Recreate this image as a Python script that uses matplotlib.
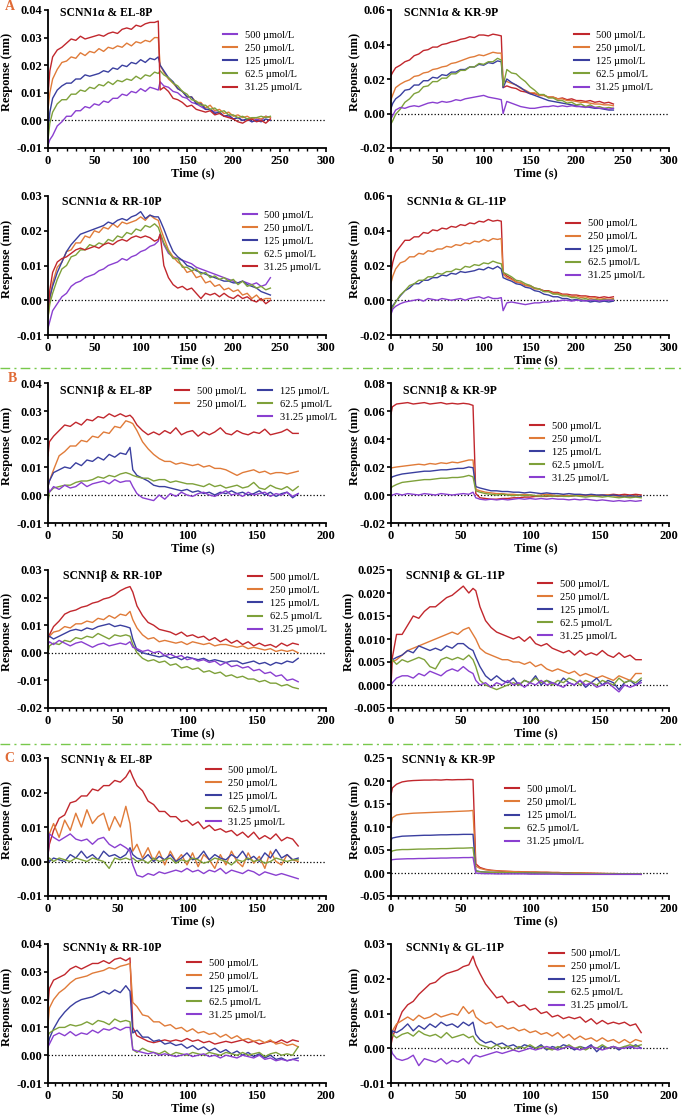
import matplotlib
matplotlib.use('Agg')
import matplotlib.pyplot as plt
from matplotlib.lines import Line2D
from matplotlib.ticker import FormatStrFormatter
import numpy as np

plt.rcParams['font.family'] = ['Liberation Serif', 'DejaVu Serif']
plt.rcParams['axes.unicode_minus'] = False

"""
Data (responses read off the sensorgrams, in units of 0.001 nm)
"""
conc_labels = ['500 µmol/L', '250 µmol/L', '125 µmol/L', '62.5 µmol/L', '31.25 µmol/L']

# sampling times of section A (association 0-120 s, dissociation 120-240 s)
t_a = [0, 2, 5, 10, 15, 20, 25, 30, 35, 40, 45, 50, 55, 60, 65, 70, 75, 80, 85, 90, 95, 100, 105, 110, 115, 119,
       121, 125, 130, 135, 140, 145, 150, 155, 160, 165, 170, 175, 180, 185, 190, 195, 200, 205, 210, 215, 220, 225,
       230, 235, 240]
# sampling times of sections B and C (association 0-60 s, dissociation 60-180 s)
t_bc = [0, 1, 4, 8, 12, 16, 20, 24, 28, 32, 36, 40, 44, 48, 52, 56, 59,
        61, 64, 68, 72, 76, 80, 84, 88, 92, 96, 100, 104, 108, 112, 116, 120, 124, 128, 132, 136, 140, 144, 148,
        152, 156, 160, 164, 168, 172, 176, 180]

# A - SCNN1a & EL-8P
a1_500 = [-9, -7, -5.5, -2, -0.5, 1.5, 1.5, 3.5, 3.5, 5, 4.5, 6, 5.5, 7, 6.5, 8, 8, 9.5, 9, 10.5, 10, 11.5, 10.5, 12, 11.5, 11,
          14, 12.5, 12, 10.5, 10, 8.5, 8, 6.5, 6, 5, 4, 4, 3, 3, 1.5, 1.5, 0.5, 1, 0, 0.5, -0.5, 0.5, 0, 1.5, 1]
a1_250 = [4, 10, 15, 18.5, 21, 21.5, 23, 22.5, 24.5, 23.5, 25, 24.5, 26, 25, 26.5, 26, 27, 26.5, 28, 27, 28.5, 28, 29, 28.5, 30, 30,
          20, 17.5, 15, 13.5, 11.5, 10.5, 8.5, 8.5, 6.5, 6.5, 4.5, 5.5, 3.5, 4, 2.5, 3, 1.5, 2, 1, 1.5, 0.5, 1, 0.5, 1.5, 1]
a1_125 = [-4, 3, 8, 11, 12.5, 13.5, 13.5, 15, 15, 16.5, 16, 16.5, 17, 18, 17.5, 19, 18.5, 20, 19.5, 21, 20.5, 22, 21, 22.5, 22, 23,
          20, 18, 15.5, 14, 11.5, 10.5, 8.5, 8.5, 6, 6, 4, 4, 2.5, 3, 1.5, 2, 0.5, 1, 0, 0.5, -0.5, 0, -0.5, 0.5, 0]
a1_62 = [-7, -1, 3, 6, 7.5, 7.5, 9.5, 9.5, 11, 10.5, 12, 11.5, 13, 12.5, 14, 13, 14.5, 14, 15, 14.5, 16, 15, 16.5, 16, 17.5, 17,
         18, 16.5, 15.5, 13.5, 12.5, 10.5, 9.5, 7.5, 7, 5.5, 5.5, 4, 4.5, 3, 3.5, 2, 2, 1, 1.5, 0.5, 1, 1, 1.5, 1, 1.5]
a1_31 = [9, 18, 23, 25.5, 26.5, 28, 29.5, 29, 30.5, 29.5, 30, 30.5, 31, 30.5, 31.5, 32, 31.5, 33, 33.5, 33, 34.5, 34, 35, 35.5, 35.5, 36,
         11, 12, 10.5, 8, 7.5, 6.5, 5, 5.5, 4, 3.5, 3, 3.5, 2, 2.5, 1.5, 1, 0.5, -0.5, -1, 0, 0.5, -0.5, 0, -1, 0.5]

# A - SCNN1a & KR-9P
a2_500 = [22, 24, 26.5, 28, 30, 31, 33.5, 34.5, 36.5, 37, 38.5, 38.5, 40, 40.5, 41.5, 42, 43, 43.5, 44.5, 44, 45.5, 45.5, 45, 46, 45.5, 45,
          15, 16, 15, 14.5, 13, 12.5, 11.5, 11.5, 10.5, 10.5, 9.5, 9.5, 8.5, 9, 8, 8.5, 7.5, 7.5, 7, 7.5, 6.5, 7, 6, 6.5, 5.5]
a2_250 = [8, 11, 15, 17, 18.5, 19.5, 21.5, 22, 23.5, 24, 25.5, 26, 27, 27.5, 29, 29.5, 30.5, 31.5, 32.5, 33, 34, 33.5, 34.5, 35.5, 35, 35,
          19, 18.5, 17.5, 16.5, 14.5, 13.5, 12, 12, 10.5, 10.5, 9.5, 9.5, 8.5, 8.5, 7.5, 7.5, 7, 6.5, 6.5, 6, 5.5, 5.5, 5, 5, 4.5]
a2_125 = [3, 6, 8.5, 10.5, 13.5, 14, 16.5, 16.5, 19, 19, 21, 20.5, 22.5, 22, 24, 24, 25.5, 25.5, 27, 27, 28.5, 28, 29.5, 29, 30.5, 30,
          15, 20, 18, 16.5, 15, 13, 11.5, 10.5, 9.5, 8.5, 7.5, 7, 6.5, 6, 5.5, 5, 4.5, 4, 4, 3.5, 3, 3, 2.5, 2, 2]
a2_62 = [-6, -4, -0.5, 2.5, 6.5, 8.5, 11.5, 12.5, 15.5, 16, 18.5, 18.5, 20.5, 20.5, 23, 23, 25, 25, 27, 27, 29, 28.5, 30, 30, 32, 31,
         16, 25.5, 23.5, 23, 20.5, 18.5, 15.5, 13.5, 11, 11, 9, 9, 7.5, 7.5, 6, 6.5, 5, 5.5, 4, 5, 3.5, 4, 3, 3.5, 3]
a2_31 = [-3, -1, 2, 3.5, 3, 4, 4.5, 4, 5, 6, 6.5, 6, 7, 6.5, 7, 8, 7.5, 8.5, 9, 9.5, 10, 10.5, 9.5, 9, 8.5, 8,
         0, 7, 6, 5, 4, 3.5, 3, 3, 3.5, 4, 4, 4.5, 4, 4.5, 4, 4.5, 4, 4, 3.5, 4, 3.5, 3, 3, 2.5, 3]

# A - SCNN1a & RR-10P
a3_500 = [-8, -6, -3, -1, 1, 2, 4, 5, 5.5, 6.5, 7, 7.5, 8.5, 9, 10, 10.5, 11, 12, 11.5, 12.5, 13, 14, 14.5, 15.5, 16, 17,
          19, 16, 13.5, 12.5, 12, 11.5, 11, 10.5, 9.5, 9, 8.5, 8, 7.5, 7, 6.5, 6, 5.5, 5, 5.5, 5, 4.5, 5, 4, 4.5, 6.5]
a3_250 = [-5, 0, 5, 9.5, 11, 14, 14.5, 16.5, 16.5, 18.5, 18, 20, 19.5, 21, 20.5, 22, 21, 22.5, 22, 22.5, 23, 24, 23, 24.5, 23.5, 23,
          21, 18, 14.5, 12.5, 11, 10, 8, 8.5, 6.5, 7, 5, 5.5, 4, 4.5, 3, 3.5, 2.5, 3, 1.5, 2, 0.5, 1.5, 0, 0.5, 0.5]
a3_125 = [-3, 1, 4, 8, 11, 14, 16, 17.5, 19, 19.5, 20, 20.5, 21, 21.5, 22.5, 22, 23, 23.5, 23, 24, 24.5, 25.5, 23.5, 24.5, 24, 24,
          23, 20.5, 17, 14, 12.5, 11.5, 10, 9.5, 8.5, 8, 7.5, 7, 6.5, 6, 5.5, 5.5, 5, 5, 5.5, 4.5, 4, 3.5, 2.5, 2, 1.5]
a3_62 = [-5, -1, 2, 6, 9, 10, 12.5, 13, 14.5, 14.5, 16, 15.5, 16.5, 16, 17.5, 17, 18.5, 18, 19.5, 19, 20.5, 20, 21.5, 21, 22, 21,
         19.5, 16.5, 14, 12, 12, 9.5, 9.5, 8.5, 9, 7.5, 8, 6.5, 7, 6, 6.5, 5.5, 6, 4.5, 5.5, 4, 4.5, 3.5, 4, 3, 3.5]
a3_31 = [-3, 3, 8, 11, 12, 12.5, 13.5, 14.5, 15, 14.5, 15, 15.5, 15, 16, 16.5, 16, 17, 17.5, 17, 18, 18.5, 18, 18.5, 18, 17, 17.5,
         19, 10, 6.5, 4.5, 3.5, 4, 3, 3.5, 2, 0.5, 2, 1.5, 2, 1, 2, 1, 0.5, 1.5, 0.5, 1, 0, -0.5, 0.5, -1, 0]

# A - SCNN1a & GL-11P
a4_500 = [16, 22, 27.5, 31, 34.5, 34.5, 36.5, 36.5, 39, 38.5, 40.5, 40, 41.5, 41, 42.5, 42, 43.5, 43, 44.5, 44, 45.5, 45, 46.5, 45.5, 46, 45.5,
          16, 14, 12.5, 10.5, 10, 8.5, 8.5, 7, 6.5, 5.5, 5.5, 4.5, 4.5, 3.5, 3.5, 3, 3, 2.5, 2.5, 2, 2, 1.5, 2, 1.5, 2]
a4_250 = [10, 14, 18, 21.5, 22.5, 25, 25, 27, 26.5, 28.5, 28, 29.5, 29.5, 31, 30.5, 32, 31.5, 33, 32.5, 34, 33.5, 35, 34, 35.5, 35, 35.5,
          15, 13, 12, 10.5, 10, 8.5, 8, 6.5, 6.5, 5, 5, 4, 4, 3, 3, 2, 2.5, 1.5, 2, 1, 1.5, 0.5, 1, 0.5, 1]
a4_125 = [-5, -3, -1, 2.5, 5.5, 7, 9.5, 9.5, 11.5, 11.5, 13, 13, 14.5, 14, 15.5, 15, 16.5, 16, 16.5, 17, 18, 17.5, 19, 18, 19.5, 18,
          13, 12, 11, 9.5, 9, 7.5, 7, 5.5, 5, 3.5, 3, 2, 2, 1, 1, 0, 0.5, -0.5, 0, -1, -0.5, -1, -0.5, -1, -0.5]
a4_62 = [-7, -4, -1, 3, 5.5, 8.5, 9.5, 11.5, 11.5, 13.5, 13.5, 15.5, 15, 16.5, 16.5, 18, 17.5, 19.5, 19, 20.5, 20, 21.5, 21, 22.5, 21.5, 21,
         16, 15, 13.5, 11.5, 11, 9.5, 8.5, 7, 6.5, 5, 5, 3.5, 3.5, 2.5, 2.5, 1.5, 1.5, 0.5, 1, 0, 0.5, 0, 0.5, 0, 0.5]
a4_31 = [-8, -5, -3.5, -2, -1, -0.5, 0, 0.5, -0.5, 1, 0.5, 0, 1, 0.5, 0, 0.5, 1, 0, 1, 1.5, 2, 1, 2, 1, 1, 1.5,
         -6, -1.5, -1, -1.5, -2, -2.5, -2, -1.5, -1.5, -1, -1, -0.5, -0.5, 0, 0, -0.5, 0, 0, -0.5, 0, 0, -0.5, 0, 0, 0]

# B - SCNN1b & EL-8P
b1_500 = [14, 19, 21, 23, 25, 24.5, 26, 25, 27, 26.5, 28, 27.5, 29, 28, 29, 28, 28.5,
          27.5, 25, 23, 21.5, 22.5, 21.5, 23, 22, 24, 21.5, 22.5, 23, 21, 22.5, 21.5, 22.5, 24, 22, 21.5, 23, 22,
          21.5, 22.5, 22, 23.5, 21.5, 22, 22.5, 23.5, 22, 22]
b1_250 = [3, 5, 9, 14, 15.5, 17.5, 17.5, 19.5, 19, 21, 20.5, 22.5, 22, 24.5, 24, 26.5, 26,
          25.5, 23, 19, 16.5, 14.5, 13, 12, 12, 11, 11.5, 11, 10.5, 11, 10, 10.5, 9.5, 9.5, 9, 8, 7, 8, 8.5, 9, 8,
          8.5, 7.5, 8, 8, 7.5, 8, 8.5]
b1_125 = [3, 5, 8, 9, 10, 9.5, 11.5, 10.5, 12.5, 12, 13.5, 12.5, 14.5, 13.5, 15, 14.5, 17,
          9, 7, 6, 5, 3.5, 3, 3, 2.5, 2, 1.5, 2, 1, 1.5, 0.5, 1, 0, 1, 0.5, 1.5, 0.5, 1, 0, 0.5, 1.5, 0, 1, -0.5,
          0.5, 1, -1, 0.5]
b1_62 = [-3, 1, 2.5, 3, 3.5, 3.5, 4.5, 5, 5, 5.5, 6.5, 6, 7, 6.5, 7.5, 8, 7.5,
         7, 6.5, 6, 6, 5, 5.5, 5.5, 4.5, 5, 4.5, 4, 4, 3.5, 3, 4, 3, 3.5, 2.5, 3, 3.5, 2.5, 3, 4.5, 2.5, 2, 3.5,
         2.5, 2, 3, 1.5, 3]
b1_31 = [3, 1, 3, 2, 3.5, 2.5, 3, 4.5, 3, 4, 4.5, 5, 4, 5.5, 4.5, 5, 5,
         3, 0.5, -1, -1.5, -2, 0, -1.5, 0.5, -0.5, 1, 0, -0.5, 0.5, 1, 0, -0.5, 0.5, 1.5, 0, 0.5, -0.5, 1, 0, 0.5,
         1, -0.5, 0.5, 0, 1, -0.5, 0.5]

# B - SCNN1b & KR-9P
b2_500 = [58, 63, 65, 65.5, 66, 65, 65.5, 66, 65, 65.5, 66, 65, 65.5, 65, 65.5, 65, 64,
          1, -2, -2.5, -3, -3, -2.5, -2.5, -2, -2, -1.5, -1.5, -1, -1, -1, -0.5, -1, -0.5, -1, -0.5, 0, -0.5, 0,
          -0.5, 0, 0, 0.5, 0, 0.5, 0, 0.5, 0]
b2_250 = [19, 19.5, 20, 20.5, 21, 21.5, 22, 21.5, 22.5, 22, 23, 22.5, 23.5, 23, 24, 25, 25,
          4, 3, 2, 1.5, 1, 1, 0.5, 0.5, 0, 0.5, 0, -0.5, 0, 0.5, 0, -0.5, 0, -0.5, 0, -0.5, 0, -0.5, -1, -0.5, 0,
          -0.5, -1, -0.5, -1, -0.5, -1]
b2_125 = [12, 13, 14, 15, 15.5, 16, 16.5, 17, 17, 17.5, 18, 18, 18.5, 19, 19, 20, 19.5,
          6, 5, 4, 3, 3, 2.5, 2.5, 2, 2, 1.5, 2, 1.5, 1, 1.5, 1, 1, 0.5, 1, 0.5, 0.5, 0, 0.5, 0, 0, -0.5, 0, -0.5,
          -1, -0.5, -1, -1]
b2_62 = [5, 6, 7.5, 9, 9.5, 10, 10.5, 11, 11, 11.5, 12, 12, 12.5, 12.5, 13, 14, 13,
         3, 2, 1, 0.5, 0, 0.5, 0, -0.5, 0, -0.5, 0, -0.5, -1, -0.5, -1, -0.5, -1, -1, -0.5, -1, -1.5, -1, -1, -1.5,
         -1, -1.5, -2, -1.5, -2, -1.5, -2]
b2_31 = [-1, 0, 1, 0, 1, 0.5, 0, 1, 0.5, 0, 1, 0.5, 0, 0.5, 1, 0.5, 2,
         -2, -3, -3.5, -3, -3.5, -3, -3.5, -3, -2.5, -3, -2.5, -3, -2.5, -3, -2.5, -3, -3, -3.5, -3, -3.5, -3, -3.5,
         -4, -3.5, -4, -4.5, -4, -4.5, -4, -4.5, -4]

# B - SCNN1b & RR-10P
b3_500 = [5, 6.5, 9.5, 11.5, 14, 15, 15.5, 16.5, 17, 18, 18.5, 19.5, 20, 21, 22.5, 23.5, 24,
          22, 17, 13.5, 11, 10, 8.5, 8, 7.5, 6.5, 7.5, 6, 6.5, 5.5, 6, 4.5, 5.5, 4, 5, 3.5, 4.5, 3, 4, 2.5, 3.5,
          2.5, 3, 2, 3.5, 2.5, 3.5, 3]
b3_250 = [5, 6, 7.5, 8, 9.5, 9, 10.5, 10.5, 11.5, 11, 12.5, 12, 13.5, 12.5, 14, 13.5, 15,
          12, 9, 6.5, 5, 5.5, 4, 4.5, 4, 3.5, 4, 3, 4, 3.5, 3, 3.5, 2.5, 3, 3, 2.5, 2, 2.5, 1.5, 2, 1.5, 1, 1.5,
          0.5, 1, 0.5, 1, 0]
b3_125 = [6, 6, 5, 6, 7, 8, 8.5, 8, 9, 8.5, 9.5, 10, 10.5, 9.5, 10, 9.5, 9,
          5, 1, 0, -0.5, -1, -1.5, -1, -2, -1.5, -2.5, -1.5, -2, -2.5, -2, -3, -2.5, -3, -3.5, -3, -3, -4, -3.5, -3,
          -4, -3.5, -4.5, -3.5, -4, -3, -3.5, -2]
b3_62 = [0, 2.5, 3.5, 3, 4.5, 4, 5.5, 5, 6, 5.5, 7, 6, 5, 6.5, 6, 6.5, 6,
         3, 0, -2, -3, -2.5, -3.5, -3, -4.5, -4, -5.5, -5, -6, -5.5, -7, -6.5, -7.5, -7, -8.5, -8, -9, -8.5, -9.5,
         -9.5, -10.5, -10, -11, -11, -12, -11.5, -12.5, -13]
b3_31 = [3, 4, 3, 4.5, 3.5, 2.5, 3.5, 4, 3, 2, 3, 3.5, 2.5, 3, 3.5, 3, 4,
         2, 1.5, 0.5, 1, 0, 0.5, -1, -0.5, -1.5, -1, -2.5, -2, -3, -2.5, -3.5, -3, -4.5, -3.5, -5, -4.5, -5.5, -5,
         -6.5, -6, -7.5, -7, -8.5, -8, -10, -9.5, -10.5]

# B - SCNN1b & GL-11P
b4_500 = [0, 6, 11, 11, 13, 15, 14.5, 16, 17, 17, 18, 19, 19.5, 20.5, 21.5, 20, 21,
          20.5, 17, 14, 12.5, 11.5, 11, 10.5, 10, 10.5, 9.5, 10.5, 9, 8.5, 9, 8, 7.5, 7, 7.5, 6.5, 7.5, 6.5, 7,
          6.5, 7.5, 6.5, 6, 7, 6, 6.5, 5.5, 5.5]
b4_250 = [5, 5, 5.5, 6.5, 7.5, 8, 8.5, 9, 9.5, 10, 10.5, 11, 11.5, 11, 12, 12.5, 11,
          10, 8, 7, 6.5, 6, 5.5, 5.5, 5, 5, 4.5, 5, 4, 4.5, 3.5, 3, 3.5, 3, 2.5, 3, 2, 2.5, 2, 1.5, 2, 1.5, 1, 2,
          1.5, 1, 2.5, 2.5]
b4_125 = [5, 5.5, 6, 6.5, 7.5, 7, 8.5, 8, 7.5, 8, 7.5, 8.5, 8, 9, 9, 8, 7.5,
          6, 4, 2, 1, 2, 1, 0.5, 1.5, 0, 1, 0.5, 2, 0, 1, 0.5, 0, 1.5, 0.5, 0, 1, -0.5, 0.5, 1.5, 0, 1, 0.5, -1,
          0.5, 1, 0, 1]
b4_62 = [5, 5.5, 4.5, 5.5, 5, 5.5, 6, 5.5, 4, 3.5, 5.5, 6, 5.5, 6, 5.5, 6.5, 5.5,
         4, 1, 0, -0.5, -1, -0.5, 0, 0.5, 0, 1, 0.5, 1.5, 0.5, 1, 0, 1, 0.5, 1.5, 1, 0, 1, 0.5, 0, 1, 0.5, 0, 1.5,
         0.5, 1, 0.5, 1.5]
b4_31 = [0, 0.5, 1.5, 2, 2, 1.5, 2.5, 2, 3, 2.5, 2, 3, 3.5, 3, 4, 3, 2.5,
         1, 0, 0.5, -0.5, 0.5, 0, 1, 0, 0.5, -0.5, 0.5, 0, 1, 0, 0.5, 0, -0.5, 0.5, 0, 1, 0, 0.5, -0.5, 0, 0.5,
         -0.5, -1.5, 0, -0.5, 0, 0.5]

# C - SCNN1g & EL-8P
c1_500 = [2, 5, 9, 12.5, 13.5, 17, 17.5, 19, 19, 21, 20.5, 22, 22, 23.5, 23, 24.5, 26.5,
          24.5, 22, 20.5, 17.5, 16.5, 14.5, 14.5, 13, 13, 11.5, 12, 10.5, 11.5, 9.5, 10.5, 9, 9.5, 8.5, 9, 7.5,
          8.5, 7, 8.5, 6.5, 7.5, 6.5, 8, 6, 7, 6.5, 4.5]
c1_250 = [3, 8, 11, 7, 12, 9, 14, 10, 15, 11, 13, 14, 9, 13, 10, 16, 11,
          3, 5, 1, 4, 0, 3, -1, 3, 0, 2, -1, 2.5, -1.5, 2, 0.5, -2, 2, -1, 3, 0, -1.5, 2.5, -0.5, 1.5, -2, 3, 0,
          -1, 2, 0.5, 0]
c1_125 = [1, 0, 1, 0.5, 0, 2, 1, 3, 1, 2, 0.5, 3, 1.5, 2, 1, 2, 4,
          2, 1, 0.5, 2, 0, 1.5, 0.5, 2, 0, 1, 2.5, 0.5, 1, 3, 0.5, 2, 1, 0.5, 2, 1, 3, 0.5, 1.5, 0, 2.5, 1, 3.5,
          1, 2, 0.5, 1]
c1_62 = [0.5, 1, 0, 1, 0.5, 0, 1, 0.5, 0, 1, 0.5, 0, -2, 1, 0.5, 1, 0.5,
         1, 0, 0.5, -0.5, 1, 0, 0.5, 1, -0.5, 0.5, 0, 1, 0.5, -0.5, 0, 1, 0.5, 0, -1, 0.5, 0, 1, 0, 0.5, -0.5, 0,
         1, 0.5, 0, 0.5, 0.5]
c1_31 = [1, 8, 7, 6, 7, 8, 6.5, 6, 6.5, 5, 6.5, 7, 5, 4, 5, 4, 3,
         -1, -4, -4.5, -3.5, -4, -3, -3.5, -3, -2.5, -3, -2, -3, -2.5, -3.5, -2.5, -3, -2, -3.5, -2.5, -3, -3.5,
         -2.5, -3, -4, -3, -3.5, -4, -3.5, -4, -4.5, -5]

# C - SCNN1g & KR-9P
c2_500 = [170, 185, 193, 198, 200, 201, 201.5, 202, 202, 202.5, 202, 203, 202.5, 203, 203, 203.5, 203,
          20, 12, 8, 6, 5, 4, 3.5, 3, 3, 2.5, 2, 2, 1.5, 1.5, 1, 1, 0.5, 0.5, 0, 0, -0.5, -0.5, -1, -1, -1.5,
          -1.5, -2, -2, -2.5, -2.5, -3]
c2_250 = [105, 120, 126, 128, 129, 130, 130.5, 131, 131.5, 132, 132.5, 133, 133.5, 134, 134.5, 135, 136,
          15, 10, 7, 5.5, 4.5, 4, 3.5, 3, 2.5, 2.5, 2, 2, 1.5, 1.5, 1, 1, 0.5, 0.5, 0.5, 0, 0, -0.5, -0.5, -1, -1,
          -1, -1.5, -1.5, -1.5, -2, -2]
c2_125 = [72, 76, 78, 80, 80.5, 81, 81.5, 82, 82, 82.5, 83, 83, 83.5, 83.5, 84, 84, 84,
          5, 3, 2, 1.5, 1, 1, 0.5, 0.5, 0, 0, 0, -0.5, -0.5, -0.5, -1, -1, -1, -1, -1.5, -1.5, -1.5, -1.5, -2, -2,
          -2, -2, -2, -2, -2, -2, -2]
c2_62 = [45, 48, 50, 51, 51, 51.5, 52, 52, 52.5, 52.5, 53, 53, 53.5, 54, 54, 54.5, 55,
         4, 2.5, 2, 1.5, 1, 1, 0.5, 0.5, 0.5, 0, 0, 0, -0.5, -0.5, -0.5, -1, -1, -1, -1, -1, -1.5, -1.5, -1.5,
         -1.5, -1.5, -2, -2, -2, -2, -2, -2]
c2_31 = [28, 29, 30, 30.5, 31, 31, 31.5, 31.5, 32, 32, 32.5, 32.5, 33, 33, 33.5, 33.5, 34,
         0, -1, -1.5, -1.5, -2, -2, -2, -2, -2, -2, -2.5, -2.5, -2.5, -2.5, -2.5, -2.5, -3, -3, -3, -3, -3, -3, -3,
         -3, -3, -3, -3, -3, -3, -3, -3]

# C - SCNN1g & RR-10P
c3_500 = [18, 24, 27, 28, 29, 31, 32, 31, 32, 33, 33, 34, 33, 34.5, 35, 34, 35,
          10, 7, 6, 5, 4.5, 5, 5.5, 5, 5.5, 5, 6, 5, 5.5, 4.5, 5, 4, 4.5, 5, 4.5, 5, 5.5, 4.5, 5, 4, 4.5, 5, 4.5,
          5.5, 4.5, 5.5, 5]
c3_250 = [11, 17, 20, 22.5, 24, 26, 27.5, 28, 28.5, 29.5, 30, 30.5, 31.5, 31, 32, 32.5, 33,
          19, 17.5, 14.5, 14, 12, 12, 10.5, 11, 9.5, 10, 8.5, 9.5, 8, 8.5, 7.5, 8, 6.5, 7.5, 6, 7, 5.5, 6, 5, 5.5,
          4.5, 5.5, 4, 4.5, 3.5, 4, 3]
c3_125 = [3, 6, 9.5, 13, 15.5, 17.5, 19, 20, 20.5, 21, 22, 23, 22, 23.5, 22.5, 25, 23,
          8, 9, 6.5, 6.5, 5, 5.5, 4, 4.5, 3.5, 4, 2.5, 3.5, 2, 3, 1.5, 2.5, 1, 2, 0.5, 1.5, 0, 1, -0.5, 0.5, -1, 0,
          -1.5, -1, -2, -1.5, -1]
c3_62 = [7, 8, 9, 10, 10, 11, 10.5, 11, 12, 11, 12.5, 12, 11, 13, 12, 12.5, 12,
         2, 1, 2.5, 1.5, 1, 0.5, 1.5, 0, 1, 0.5, 0, 1, 0.5, 0, 1, 0.5, 0, 1, 0.5, 0, 1, 0, 0.5, 1, -0.5, 0.5, 1,
         0, 0.5, 0, 3]
c3_31 = [3, 4, 7, 8, 7, 8.5, 7, 8, 7.5, 9, 8, 9.5, 9, 10, 9, 10, 10,
         2, 1.5, 1, 0.5, 1, 0, 0.5, 0, -0.5, 0, 0.5, -0.5, 0, 0.5, -0.5, 0, -1, 0, -0.5, -1, 0, -0.5, -1, 0, -1.5,
         -1, -2, -1.5, -2, -1.5, -2]

# C - SCNN1g & GL-11P
c4_500 = [1, 3, 6.5, 10.5, 12.5, 13.5, 15.5, 17, 18.5, 19, 20.5, 21.5, 22, 22.5, 23.5, 24, 26.5,
          24, 21.5, 18.5, 16.5, 14.5, 15, 13, 13.5, 12, 12.5, 11, 11.5, 10, 10.5, 9, 9.5, 8.5, 9, 8.5, 9, 7.5, 8.5,
          7, 8, 7, 7.5, 7, 7.5, 6.5, 7, 4.5]
c4_250 = [3, 5, 7, 8, 9, 8, 9.5, 8.5, 9, 10, 9, 9.5, 10, 9.5, 12, 10, 11,
          9, 8, 7, 7.5, 6, 6.5, 5.5, 6, 5, 5.5, 4.5, 5, 4, 4.5, 3.5, 4.5, 3, 4, 2.5, 3.5, 2.5, 3, 2, 3, 2, 2.5,
          1.5, 2.5, 1.5, 2.5, 2]
c4_125 = [2, 5, 4.5, 5.5, 7, 5, 6.5, 5.5, 7, 6, 7.5, 6.5, 7, 6, 7.5, 6.5, 7.5,
          4, 2.5, 1.5, 2, 1, 1.5, 0.5, 1, 0, 1, 0.5, 0, 1, -0.5, 0.5, 0, 1, 0.5, -0.5, 0.5, 0, 1, -1, 0.5, 0, 0.5,
          -0.5, 0.5, 0, 1, 0]
c4_62 = [3, 4, 3, 4, 4.5, 3.5, 5, 4, 3.5, 4, 3, 4.5, 3, 3.5, 4, 3, 3.5,
         2, 1, 0.5, 0, 1, 0, 0.5, -0.5, 0.5, 0, 1, 0, 0.5, 0, -0.5, 0.5, 0, 1, 0, 0.5, -0.5, 0.5, 0, 1, 0, 0.5, 0,
         0.5, 1, 0.5, 1]
c4_31 = [0, -1.5, -3, -3.5, -3, -2, -5, -3, -3.5, -4, -3, -4.5, -3.5, -4, -3, -4.5, -2.5,
         -2, -2.5, -2, -1.5, -1, -1.5, -1, -0.5, -1, -0.5, 0, -0.5, 0, 0.5, 0, -0.5, 0, 0.5, 0, -0.5, 0, 0.5, 0,
         -0.5, 0, 0.5, 0, 0, 0.5, 0, 0]

"""
Style
"""
RED = '#C1272D'
ORANGE = '#E07B39'
BLUE = '#3A3F9F'
GREEN = '#7EA13A'
PURPLE = '#8A3FD0'
COLORS = [RED, ORANGE, BLUE, GREEN, PURPLE]
COLORS_SWAP = [PURPLE, ORANGE, BLUE, GREEN, RED]

W, H = 685, 1117
COL_X = [48, 391]
ROW_Y = [(10, 148), (196, 335), (383, 523), (570, 708), (758, 896), (944, 1083)]

panels = [
    dict(title='SCNN1α & EL-8P', pos=(0, 0), t=t_a, ys=[a1_500, a1_250, a1_125, a1_62, a1_31], colors=COLORS_SWAP,
         yl=(-0.01, 0.04, 0.01), fmt='%.2f', xmax=300, minor=10, leg=(0.63, 0.85), tt=(0.043, 0.975)),
    dict(title='SCNN1α & KR-9P', pos=(1, 0), t=t_a, ys=[a2_500, a2_250, a2_125, a2_62, a2_31], colors=COLORS,
         yl=(-0.02, 0.06, 0.02), fmt='%.2f', xmax=300, minor=10, leg=(0.66, 0.85), tt=(0.047, 0.975)),
    dict(title='SCNN1α & RR-10P', pos=(0, 1), t=t_a, ys=[a3_500, a3_250, a3_125, a3_62, a3_31], colors=COLORS_SWAP,
         yl=(-0.01, 0.03, 0.01), fmt='%.2f', xmax=300, minor=10, leg=(0.70, 0.895), tt=(0.05, 0.957)),
    dict(title='SCNN1α & GL-11P', pos=(1, 1), t=t_a, ys=[a4_500, a4_250, a4_125, a4_62, a4_31], colors=COLORS,
         yl=(-0.02, 0.06, 0.02), fmt='%.2f', xmax=300, minor=10, leg=(0.63, 0.835), tt=(0.058, 0.957)),
    dict(title='SCNN1β & EL-8P', pos=(0, 2), t=t_bc, ys=[b1_500, b1_250, b1_125, b1_62, b1_31], colors=COLORS,
         yl=(-0.01, 0.04, 0.01), fmt='%.2f', xmax=200, minor=5, leg=(0.457, 0.975), leg2=(0.755, 0.975),
         tt=(0.043, 0.943)),
    dict(title='SCNN1β & KR-9P', pos=(1, 2), t=t_bc, ys=[b2_500, b2_250, b2_125, b2_62, b2_31], colors=COLORS,
         yl=(-0.02, 0.08, 0.02), fmt='%.2f', xmax=200, minor=5, leg=(0.50, 0.725), tt=(0.043, 0.943)),
    dict(title='SCNN1β & RR-10P', pos=(0, 3), t=t_bc, ys=[b3_500, b3_250, b3_125, b3_62, b3_31], colors=COLORS,
         yl=(-0.02, 0.03, 0.01), fmt='%.2f', xmax=200, minor=5, leg=(0.72, 0.98), tt=(0.054, 0.957)),
    dict(title='SCNN1β & GL-11P', pos=(1, 3), t=t_bc, ys=[b4_500, b4_250, b4_125, b4_62, b4_31], colors=COLORS,
         yl=(-0.005, 0.025, 0.005), fmt='%.3f', xmax=200, minor=5, leg=(0.53, 0.93), tt=(0.054, 0.957),
         ylab_x=-0.13),
    dict(title='SCNN1γ & EL-8P', pos=(0, 4), t=t_bc, ys=[c1_500, c1_250, c1_125, c1_62, c1_31], colors=COLORS,
         yl=(-0.01, 0.03, 0.01), fmt='%.2f', xmax=200, minor=5, leg=(0.57, 0.945), tt=(0.047, 0.985)),
    dict(title='SCNN1γ & KR-9P', pos=(1, 4), t=t_bc, ys=[c2_500, c2_250, c2_125, c2_62, c2_31], colors=COLORS,
         yl=(-0.05, 0.25, 0.05), fmt='%.2f', xmax=200, minor=5, leg=(0.41, 0.806), tt=(0.04, 0.985)),
    dict(title='SCNN1γ & RR-10P', pos=(0, 5), t=t_bc, ys=[c3_500, c3_250, c3_125, c3_62, c3_31], colors=COLORS,
         yl=(-0.01, 0.04, 0.01), fmt='%.2f', xmax=200, minor=5, leg=(0.50, 0.895), tt=(0.054, 0.97)),
    dict(title='SCNN1γ & GL-11P', pos=(1, 5), t=t_bc, ys=[c4_500, c4_250, c4_125, c4_62, c4_31], colors=COLORS,
         yl=(-0.01, 0.03, 0.01), fmt='%.2f', xmax=200, minor=5, leg=(0.57, 0.965), tt=(0.054, 0.97)),
]


def add_legend(ax, handles, labels, anchor):
    leg = ax.legend(handles, labels, loc='upper left', bbox_to_anchor=anchor, frameon=False, fontsize=7.5,
                    handlelength=1.35, handletextpad=0.75, labelspacing=0.36, borderpad=0, borderaxespad=0)
    for line in leg.get_lines():
        line.set_linewidth(1.5)
    return leg


def draw_panel(fig, p):
    col, row = p['pos']
    y0, y1 = ROW_Y[row]
    ax = fig.add_axes([COL_X[col] / W, 1 - y1 / H, 278 / W, (y1 - y0) / H])

    handles = []
    for vals, color in zip(p['ys'], p['colors']):
        line, = ax.plot(p['t'], np.array(vals) / 1000.0, color=color, lw=1.0)
        handles.append(line)
    ax.axhline(0, color='k', ls=':', lw=0.9, zorder=0)

    lo, hi, step = p['yl']
    ax.set_xlim(0, p['xmax'])
    ax.set_ylim(lo, hi)
    ax.set_xticks(np.arange(0, p['xmax'] + 1, 50))
    ax.set_xticks(np.arange(0, p['xmax'] + 1, p['minor']), minor=True)
    ax.set_yticks(np.round(np.arange(lo, hi + step / 2, step), 4) + 0.0)
    ax.yaxis.set_major_formatter(FormatStrFormatter(p['fmt']))

    for s in ['top', 'right']:
        ax.spines[s].set_visible(False)
    for s in ['left', 'bottom']:
        ax.spines[s].set_linewidth(1.3)
    ax.tick_params(axis='both', which='major', direction='out', length=3, width=1.2, labelsize=9)
    ax.tick_params(axis='x', which='major', pad=2)
    ax.tick_params(axis='y', which='major', pad=1)
    ax.tick_params(axis='x', which='minor', direction='out', length=1.8, width=1.0)
    for lab in ax.get_xticklabels() + ax.get_yticklabels():
        lab.set_fontweight('bold')

    ax.set_xlabel('Time (s)', fontsize=9, fontweight='bold')
    ax.xaxis.set_label_coords(0.52, -0.14)
    ax.set_ylabel('Response (nm)', fontsize=9, fontweight='bold')
    ax.yaxis.set_label_coords(p.get('ylab_x', -0.125 if col == 0 else -0.108), 0.55)

    ax.text(p['tt'][0], p['tt'][1], p['title'], transform=ax.transAxes, fontsize=8.5, fontweight='bold',
            ha='left', va='center')

    if 'leg2' in p:
        leg1 = add_legend(ax, handles[:2], conc_labels[:2], p['leg'])
        ax.add_artist(leg1)
        add_legend(ax, handles[2:], conc_labels[2:], p['leg2'])
    else:
        add_legend(ax, handles, conc_labels, p['leg'])
    return ax


fig = plt.figure(figsize=(W / 100, H / 100), dpi=100)
for p in panels:
    draw_panel(fig, p)

# section separators and letters
for y in [368, 744]:
    fig.add_artist(Line2D([0, 1], [1 - y / H, 1 - y / H], transform=fig.transFigure, color='#78C84B', lw=1.0,
                          dashes=(7, 3, 1.5, 3)))
for letter, (x, y) in zip(['A', 'B', 'C'], [(10, 7), (12, 378), (9, 758)]):
    fig.text(x / W, 1 - y / H, letter, fontsize=10, fontweight='bold', color='#E06A35', ha='center', va='center')

fig.savefig('out.png', dpi=100)
